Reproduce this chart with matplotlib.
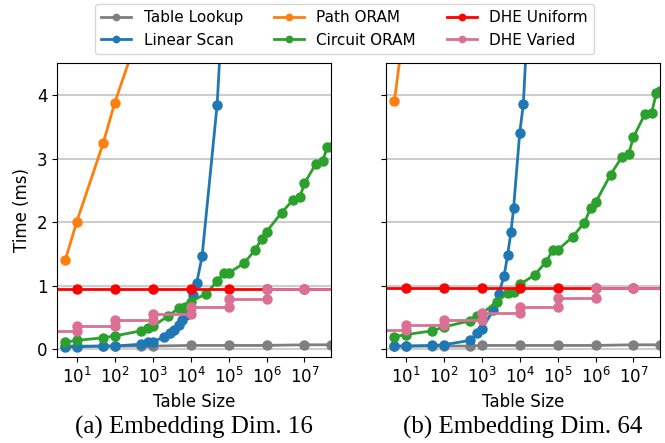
import numpy as np
import matplotlib
matplotlib.use("Agg")
import matplotlib.pyplot as plt
from matplotlib.ticker import NullLocator

# ---- data (time in ms vs table size) ----
labels = ["Table Lookup", "Linear Scan", "Path ORAM",
          "Circuit ORAM", "DHE Uniform", "DHE Varied"]
colors = ["#7f7f7f", "#1f77b4", "#ff7f0e", "#2ca02c", "#ff0000", "#db7093"]

lookup_x = [5, 10, 50, 100, 500, 1e3, 1e4, 1e5, 1e6, 1e7, 5e7]
lookup_16 = [0.05, 0.05, 0.05, 0.05, 0.05, 0.05, 0.06, 0.06, 0.06, 0.07, 0.07]
lookup_64 = [0.05, 0.05, 0.05, 0.05, 0.05, 0.06, 0.06, 0.06, 0.06, 0.07, 0.07]

scan_x_16 = [5, 10, 50, 100, 500, 750, 1000, 2000, 2800, 3700, 4800, 6000,
             7500, 9500, 11800, 14500, 20000, 50000, 75000]
scan_16 = [0.04, 0.04, 0.05, 0.05, 0.08, 0.11, 0.12, 0.19, 0.25, 0.31, 0.38, 0.46,
           0.54, 0.64, 0.85, 1.05, 1.46, 3.85, 5.8]
scan_x_64 = [5, 10, 50, 100, 500, 750, 1000, 2000, 2800, 3900, 4800, 5900,
             6900, 10000, 12500, 15000]
scan_64 = [0.05, 0.05, 0.06, 0.07, 0.14, 0.26, 0.32, 0.61, 0.87, 1.16, 1.48, 1.85,
           2.22, 3.40, 3.86, 4.8]

path_x_16 = [5, 10, 50, 100, 500]
path_16 = [1.41, 2.01, 3.25, 3.88, 5.1]
path_x_64 = [5, 10]
path_64 = [3.91, 5.3]

circuit_x = [5, 10, 50, 100, 500, 750, 1000, 2500, 5000, 7000, 1e4, 2.5e4, 5e4,
             7.5e4, 1e5, 2.5e5, 5e5, 7.5e5, 1e6, 2.5e6, 5e6, 7.5e6, 1e7, 2e7,
             3e7, 4e7, 5e7]
circuit_16 = [0.11, 0.14, 0.18, 0.21, 0.29, 0.34, 0.36, 0.52, 0.65, 0.66, 0.75,
              0.87, 1.07, 1.20, 1.20, 1.35, 1.56, 1.74, 1.85, 2.15, 2.35, 2.39,
              2.61, 2.92, 2.96, 3.18, 3.19]
circuit_64 = [0.20, 0.23, 0.29, 0.35, 0.45, 0.52, 0.56, 0.75, 0.89, 0.90, 1.02,
              1.17, 1.38, 1.56, 1.56, 1.77, 1.99, 2.22, 2.31, 2.75, 3.03, 3.08,
              3.34, 3.70, 3.72, 4.03, 4.06]

uniform_x = [1, 10, 100, 1e3, 1e4, 1e5, 1e6, 1e7, 1e8]
uniform_16 = [0.95] * 9
uniform_64 = [0.965] * 9

varied_x = [1, 10, 10, 100, 100, 1e3, 1e3, 1e4, 1e4, 1e5, 1e5, 1e6, 1e6, 1e7, 1e8]
varied_16 = [0.28, 0.28, 0.37, 0.37, 0.46, 0.46, 0.56, 0.56, 0.66, 0.66, 0.79,
             0.79, 0.95, 0.95, 0.95]
varied_64 = [0.30, 0.30, 0.38, 0.38, 0.46, 0.46, 0.57, 0.57, 0.67, 0.67, 0.80,
             0.80, 0.965, 0.965, 0.965]

panels = [
    ("(a) Embedding Dim. 16",
     [(lookup_x, lookup_16), (scan_x_16, scan_16), (path_x_16, path_16),
      (circuit_x, circuit_16), (uniform_x, uniform_16), (varied_x, varied_16)]),
    ("(b) Embedding Dim. 64",
     [(lookup_x, lookup_64), (scan_x_64, scan_64), (path_x_64, path_64),
      (circuit_x, circuit_64), (uniform_x, uniform_64), (varied_x, varied_64)]),
]

plt.rcParams["font.size"] = 12

fig = plt.figure(figsize=(6.65, 4.43), dpi=100)
ax1 = fig.add_axes([0.0857, 0.1937, 0.412, 0.6634])
ax2 = fig.add_axes([0.5805, 0.1937, 0.412, 0.6634], sharey=ax1)

handles = []
for ax, (caption, series) in zip([ax1, ax2], panels):
    for (xs, ys), lab, col in zip(series, labels, colors):
        h, = ax.plot(xs, ys, "-o", color=col, lw=2, ms=6.5, label=lab)
        if ax is ax1:
            handles.append(h)
    ax.set_xscale("log")
    ax.set_xlim(3, 5e7)
    ax.set_ylim(-0.125, 4.5)
    ax.set_xticks([1e1, 1e2, 1e3, 1e4, 1e5, 1e6, 1e7])
    ax.xaxis.set_minor_locator(NullLocator())
    ax.set_yticks([0, 1, 2, 3, 4])
    ax.grid(axis="y", color="#c4c4c4", lw=1.2)
    ax.set_xlabel("Table Size")
    bb = ax.get_position()
    fig.text((bb.x0 + bb.x1) / 2, 0.022, caption, ha="center", va="baseline",
             family="Liberation Serif", fontsize=18)

ax1.set_ylabel("Time (ms)")
plt.setp(ax2.get_yticklabels(), visible=False)

fig.legend(handles, labels, ncol=3, loc="upper center", fontsize=11,
           bbox_to_anchor=(0.518, 1.008), markerscale=0.7)

fig.savefig("out.png", dpi=100)
